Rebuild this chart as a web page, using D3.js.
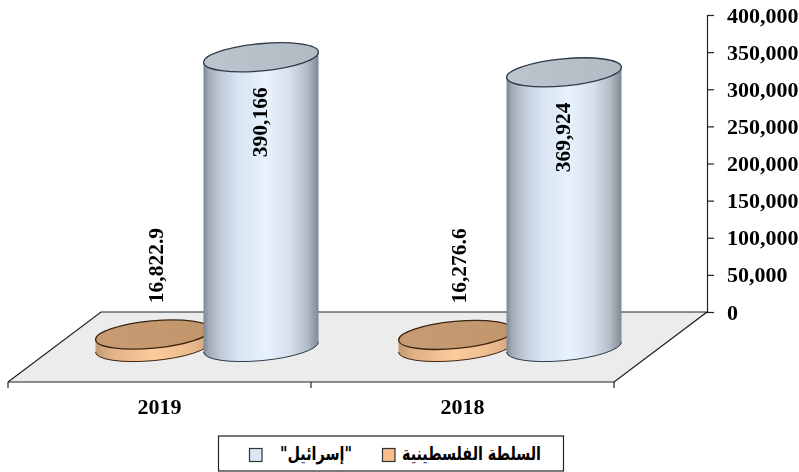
<!DOCTYPE html>
<html><head><meta charset="utf-8">
<script src="https://cdn.jsdelivr.net/npm/d3@7/dist/d3.min.js"></script>
<style>html,body{margin:0;padding:0;background:#fff}svg{display:block;filter:blur(.35px)}
text{font-family:"Liberation Serif",serif;font-weight:bold;fill:#000}</style>
</head><body><svg id="c" width="799" height="472"></svg>
<script>
const categories = ["2019", "2018"];
const seriesNames = ["السلطة الفلسطينية", "\"إسرائيل\""];
const palestinianAuthority = [16822.9, 16276.6];
const israel = [390166, 369924];
const valueLabels = [["16,822.9", "16,276.6"], ["390,166", "369,924"]];
const valueTicks = [0, 50000, 100000, 150000, 200000, 250000, 300000, 350000, 400000];

const svg = d3.select("#c");
const y = d3.scaleLinear().domain([0, 400000]).range([312, 15]);
const x = d3.scaleBand().domain(categories).range([8, 614]);
const depth = { dx: 93, dy: -70 };
const sub = d3.scalePoint().domain([0, 1]).range([-53, 55]);
const a = 57.6, b = 13.6, tilt = -5.3, sx = 57.5, sy = 5;

const defs = svg.append("defs");
function grad(id, stops) {
  const g = defs.append("linearGradient").attr("id", id).attr("x1", 0).attr("x2", 1).attr("y1", 0).attr("y2", 0);
  stops.forEach(s => g.append("stop").attr("offset", s[0]).attr("stop-color", s[1]));
}
grad("blue", [[0, "#7c8793"], [.05, "#a3adb9"], [.15, "#c0cad8"], [.3, "#d8e4f1"], [.55, "#e7f2fd"], [.75, "#d5e0ec"], [.9, "#b3bdc8"], [1, "#7f8893"]]);
grad("blueTop", [[0, "#bcc4cd"], [1, "#b2bac3"]]);
grad("orange", [[0, "#c49a72"], [.15, "#e2b288"], [.5, "#fdcb9c"], [.85, "#e8b88c"], [1, "#c9a07a"]]);
grad("orangeTop", [[0, "#c89c72"], [1, "#c2966c"]]);

const floor = svg.append("g");
const x0 = x.range()[0], x1 = x.range()[1];
floor.append("path")
  .attr("d", d3.line()([[x0, y(0) + 70], [x1, y(0) + 70], [x1 + depth.dx, y(0)], [x0 + depth.dx, y(0)]]) + "Z")
  .attr("fill", "#ececec");
floor.append("path")
  .attr("d", d3.line()([[x0, y(0) + 70], [x0 + depth.dx, y(0)], [x1 + depth.dx, y(0)], [x1, y(0) + 70]]))
  .attr("fill", "none").attr("stroke", "#222").attr("stroke-width", 1.2);

const bottom = svg.append("g").attr("transform", `translate(0,${y(0) + 70})`);
bottom.append("line").attr("x1", x0).attr("x2", x1).attr("stroke", "#222").attr("stroke-width", 1.2);
[x0, x0 + x.step(), x1].forEach(t => bottom.append("line").attr("x1", t).attr("x2", t).attr("y2", 6).attr("stroke", "#222").attr("stroke-width", 1.2));
categories.forEach(c => bottom.append("text").attr("x", x(c) + x.bandwidth() / 2).attr("y", 32)
  .attr("text-anchor", "middle").attr("font-size", 22).text(c));

const axis = d3.axisRight(y).tickValues(valueTicks).tickSize(7).tickPadding(13).tickFormat(d3.format(","));
const ax = svg.append("g").attr("transform", "translate(707,0)").call(axis);
ax.selectAll("path,line").attr("stroke", "#222").attr("stroke-width", 1.2);
ax.selectAll("text").attr("font-size", 22).attr("font-family", "Liberation Serif").attr("font-weight", "bold").attr("fill", "#000");

function cylinder(cx, value, fill, top, stroke) {
  const by = y(0) + 35, h = y(0) - y(value), ty = by - h;
  const g = svg.append("g");
  g.append("path").attr("d",
    `M${cx - sx},${ty + sy} L${cx - sx},${by + sy} A${a},${b} ${tilt} 0 0 ${cx + sx},${by - sy} L${cx + sx},${ty - sy} A${a},${b} ${tilt} 0 1 ${cx - sx},${ty + sy}Z`)
    .attr("fill", `url(#${fill})`);
  g.append("path").attr("d", `M${cx - sx},${by + sy} A${a},${b} ${tilt} 0 0 ${cx + sx},${by - sy}`)
    .attr("fill", "none").attr("stroke", stroke).attr("stroke-width", 1);
  g.append("ellipse").attr("rx", a).attr("ry", b)
    .attr("transform", `translate(${cx},${ty}) rotate(${tilt})`)
    .attr("fill", `url(#${top})`).attr("stroke", stroke).attr("stroke-width", 1.3);
}
categories.forEach((c, i) => {
  const mid = x(c) + x.bandwidth() / 2 + depth.dx / 2;
  cylinder(mid + sub(0), palestinianAuthority[i], "orange", "orangeTop", "#3a2410");
  cylinder(mid + sub(1), israel[i], "blue", "blueTop", "#2c3a48");
});
function vLabel(px, py, t) {
  svg.append("text").attr("transform", `translate(${px},${py}) rotate(-90)`)
    .attr("text-anchor", "middle").attr("font-size", 21.5).text(t);
}
categories.forEach((c, i) => {
  const mid = x(c) + x.bandwidth() / 2 + depth.dx / 2;
  vLabel(mid + sub(0) + 10, y(palestinianAuthority[i]) - 34, valueLabels[0][i]);
  vLabel(mid + sub(1) + 6, y(israel[i]) + 100, valueLabels[1][i]);
});

const leg = svg.append("g");
leg.append("rect").attr("x", 218.5).attr("y", 436).attr("width", 345).attr("height", 35).attr("fill", "#fff").attr("stroke", "#222").attr("stroke-width", 1.2);
const items = [
  { sw: 249, tx: 280, len: 72, fill: "#dbe8f5", t: seriesNames[1] },
  { sw: 382, tx: 402, len: 139, fill: "#f7bd8d", t: seriesNames[0] }
];
items.forEach(d => {
  leg.append("rect").attr("x", d.sw + .5).attr("y", 448.5).attr("width", 12.5).attr("height", 13).attr("fill", d.fill).attr("stroke", "#333").attr("stroke-width", 1.2);
  leg.append("text").attr("x", d.tx).attr("y", 460).attr("font-size", 19)
    .attr("textLength", d.len).attr("lengthAdjust", "spacingAndGlyphs")
    .attr("style", 'font-family:"DejaVu Sans",sans-serif;font-weight:bold').text(d.t);
});
</script></body></html>
